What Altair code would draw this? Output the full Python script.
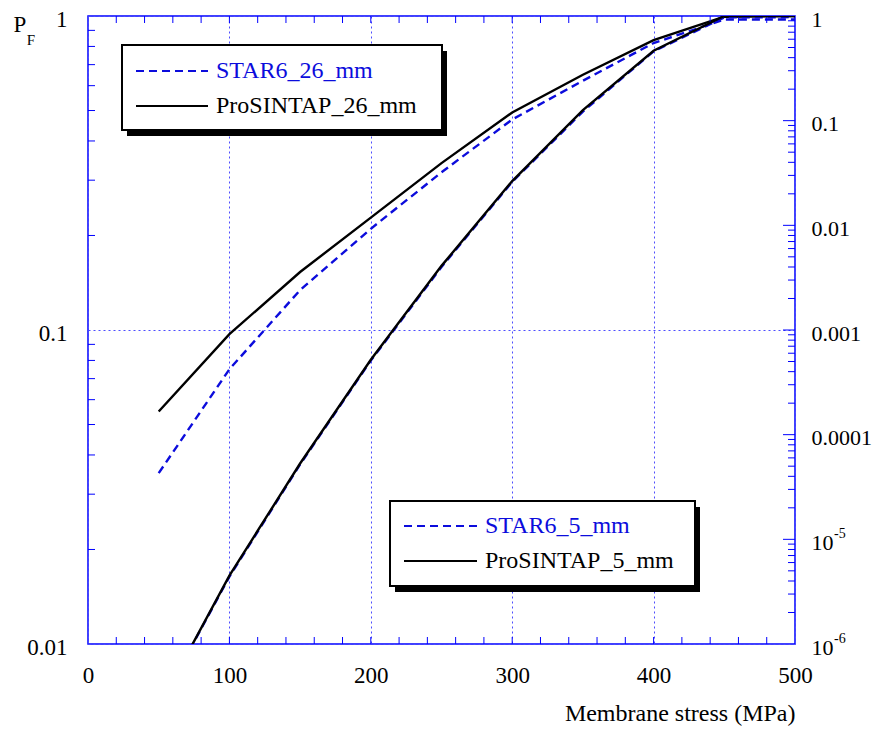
import altair as alt
import pandas as pd

# ---------------- data ----------------
stress = [50, 100, 150, 200, 250, 300, 350, 400, 450, 500]
star6_26 = [0.035, 0.075, 0.134, 0.21, 0.318, 0.468, 0.622, 0.82, 0.975, 0.975]
prosintap_26 = [0.055, 0.097, 0.153, 0.228, 0.34, 0.493, 0.65, 0.838, 0.995, 1.0]
star6_5 = [2.5e-7, 4.4e-6, 5.2e-5, 5.1e-4, 0.0040, 0.026, 0.122, 0.46, 0.97, 0.975]
prosintap_5 = [2.5e-7, 4.5e-6, 5.3e-5, 5.2e-4, 0.0041, 0.0265, 0.126, 0.466, 1.0, 1.0]

labels_26 = ["STAR6_26_mm", "ProSINTAP_26_mm"]
labels_5 = ["STAR6_5_mm", "ProSINTAP_5_mm"]
x_label_values = [0, 100, 200, 300, 400, 500]
left_label_values = [0.01, 0.1, 1]
right_label_values = [1e-6, 1e-5, 1e-4, 1e-3, 1e-2, 0.1, 1]
right_exp_values = [1e-6, 1e-5]
right_exp_text = ["-6", "-5"]
x_title = "Membrane stress (MPa)"
y_title_main = "P"
y_title_sub = "F"

x_minor = [v for v in range(20, 500, 20)]
left_minor = [m * 10.0 ** k for k in (-2, -1) for m in range(2, 10)]
right_minor = [m * 10.0 ** k for k in range(-6, 0) for m in range(2, 10)]
right_major = [1e-5, 1e-4, 1e-3, 1e-2, 0.1]

# ---------------- style ----------------
W, H = 707, 628
BLUE = "#0000ff"
LINEBLUE = "#0c0cdc"
GRID = "#4d4dff"
FONT = "Liberation Serif"

x_enc = alt.X(
    "stress:Q",
    scale=alt.Scale(domain=[0, 500], nice=False, zero=False),
    axis=alt.Axis(values=x_label_values, format="d", grid=True, gridColor=GRID,
                  gridDash=[2, 3], gridWidth=1, labelPadding=20, labelFlush=False,
                  title=x_title, titleAnchor="end", titlePadding=14),
)
yL = alt.Y(
    "pf:Q",
    scale=alt.Scale(type="log", domain=[0.01, 1], nice=False),
    axis=alt.Axis(orient="left", values=left_label_values, format="~g", grid=True,
                  gridColor=GRID, gridDash=[2, 3], gridWidth=1, labelPadding=21,
                  labelOffset=3, title=None),
)
yR = alt.Y(
    "pf:Q",
    scale=alt.Scale(type="log", domain=[1e-6, 1], nice=False),
    axis=alt.Axis(orient="right", values=right_label_values, grid=False,
                  labelExpr="datum.value < 0.00005 ? '10' : format(datum.value, '~g')",
                  labelPadding=16, labelOffset=3, labelFontSize=22, title=None),
)


def series_line(values, y_enc, color, dash=None):
    df = pd.DataFrame({"stress": stress, "pf": values})
    kw = dict(color=color, strokeWidth=2.4, clip=True)
    if dash:
        kw["strokeDash"] = dash
    return alt.Chart(df).mark_line(**kw).encode(x=x_enc, y=y_enc)


# x ticks (inward, bottom and top)
xt = pd.DataFrame({"stress": x_minor})
x_ticks_bottom = alt.Chart(xt).mark_rule(color=BLUE, strokeWidth=1).encode(
    x=x_enc, y=alt.value(H), y2=alt.value(H - 7))
x_ticks_top = alt.Chart(xt).mark_rule(color=BLUE, strokeWidth=1).encode(
    x=x_enc, y=alt.value(0), y2=alt.value(7))

left_ticks = alt.Chart(pd.DataFrame({"pf": left_minor})).mark_rule(
    color=BLUE, strokeWidth=1).encode(y=yL, x=alt.value(0), x2=alt.value(7))

right_ticks_minor = alt.Chart(pd.DataFrame({"pf": right_minor})).mark_rule(
    color=BLUE, strokeWidth=1).encode(y=yR, x=alt.value(W), x2=alt.value(W - 7))
right_ticks_major = alt.Chart(pd.DataFrame({"pf": right_major})).mark_rule(
    color=BLUE, strokeWidth=1).encode(y=yR, x=alt.value(W), x2=alt.value(W - 12))

exp_text = alt.Chart(pd.DataFrame({"pf": right_exp_values, "e": right_exp_text})).mark_text(
    align="left", baseline="middle", font=FONT, fontSize=14, color="black", dy=-5
).encode(y=yR, x=alt.value(W + 39), text="e:N")

left_group = alt.layer(
    series_line(star6_26, yL, LINEBLUE, [8, 5]),
    series_line(prosintap_26, yL, "black"),
    left_ticks, x_ticks_bottom, x_ticks_top,
)
right_group = alt.layer(
    series_line(star6_5, yR, LINEBLUE, [8, 5]),
    series_line(prosintap_5, yR, "black"),
    right_ticks_minor, right_ticks_major, exp_text,
)

one = pd.DataFrame({"k": [0]})


def legend_box(x0, x1, y0, y1, labels, sample_x0, sample_x1, text_x, row_y):
    layers = [
        alt.Chart(one).mark_rect(fill="black").encode(
            x=alt.value(x0 + 5), x2=alt.value(x1 + 5), y=alt.value(y0 + 6), y2=alt.value(y1 + 6)),
        alt.Chart(one).mark_rect(fill="white", stroke="black", strokeWidth=2).encode(
            x=alt.value(x0), x2=alt.value(x1), y=alt.value(y0), y2=alt.value(y1)),
        alt.Chart(one).mark_rule(color=LINEBLUE, strokeWidth=2.2, strokeDash=[8, 5]).encode(
            x=alt.value(sample_x0), x2=alt.value(sample_x1), y=alt.value(row_y[0])),
        alt.Chart(one).mark_rule(color="black", strokeWidth=2.2).encode(
            x=alt.value(sample_x0), x2=alt.value(sample_x1), y=alt.value(row_y[1])),
    ]
    for lab, ry, col in zip(labels, row_y, [LINEBLUE, "black"]):
        layers.append(
            alt.Chart(pd.DataFrame({"label": [lab]})).mark_text(
                align="left", baseline="middle", font=FONT, fontSize=24, color=col
            ).encode(x=alt.value(text_x), y=alt.value(ry), text="label:N")
        )
    return layers


legend1 = legend_box(34, 354, 29, 114, labels_26, 48, 120, 128, [55, 90])
legend2 = legend_box(302, 607, 485, 570, labels_5, 316, 389, 397, [510, 545])

p_text = alt.Chart(pd.DataFrame({"t": [y_title_main]})).mark_text(
    align="center", baseline="middle", font=FONT, fontSize=23, color="black"
).encode(x=alt.value(-68), y=alt.value(9), text="t:N")
f_text = alt.Chart(pd.DataFrame({"t": [y_title_sub]})).mark_text(
    align="center", baseline="middle", font=FONT, fontSize=15, color="black"
).encode(x=alt.value(-57), y=alt.value(24), text="t:N")

chart = alt.layer(
    left_group, right_group, *legend1, *legend2, p_text, f_text
).resolve_scale(y="independent").properties(
    width=W, height=H,
    autosize=alt.AutoSizeParams(type="none"),
    padding={"left": 80, "top": 8, "right": 77, "bottom": 82},
).configure_view(
    stroke=BLUE, strokeWidth=1.5
).configure_axis(
    domain=False, ticks=False, labelFont=FONT, labelFontSize=23, labelColor="black",
    titleFont=FONT, titleFontSize=24, titleFontWeight="normal", titleColor="black",
)

chart.save("out.html", embed_options={"renderer": "svg", "actions": False})
